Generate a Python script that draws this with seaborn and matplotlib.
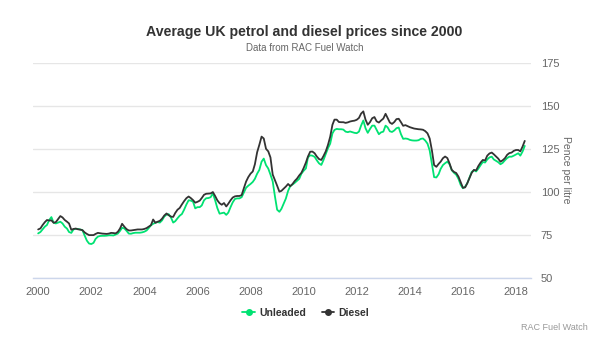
import matplotlib
matplotlib.use('Agg')
import matplotlib.pyplot as plt
import matplotlib.dates as mdates
from matplotlib.lines import Line2D
import seaborn as sns
import pandas as pd
import numpy as np

# monthly average pump prices (pence per litre), Jan 2000 - May 2018
unleaded = [
    75.7, 76.5, 78.0, 79.6, 80.6, 83.5, 85.2, 81.9, 81.5, 82.0, 82.5, 81.5,  # 2000
    79.6, 78.5, 76.5, 76.0, 78.0, 78.4, 78.3, 78.0, 77.6, 74.5, 71.5, 69.8,  # 2001
    69.5, 70.2, 72.5, 73.8, 74.2, 74.3, 74.3, 74.4, 74.6, 74.6, 74.5, 75.0,  # 2002
    75.6, 77.2, 79.0, 78.6, 77.2, 75.6, 75.5, 75.9, 76.1, 76.1, 76.1, 76.3,  # 2003
    76.7, 77.4, 78.8, 80.4, 81.3, 81.9, 82.3, 82.0, 83.3, 85.5, 86.6, 86.9,  # 2004
    85.0, 82.0, 82.8, 84.5, 86.0, 87.0, 89.5, 92.5, 95.0, 94.8, 94.2, 90.3,  # 2005
    91.0, 91.0, 92.0, 95.0, 96.2, 96.3, 96.8, 99.0, 95.0, 90.5, 87.2, 87.5,  # 2006
    87.8, 86.5, 87.8, 91.0, 93.8, 95.8, 96.1, 96.1, 96.8, 99.5, 102.3, 103.5,  # 2007
    104.5, 105.7, 107.5, 110.5, 112.7, 117.5, 119.3, 115.5, 113.5, 110.0, 106.0, 97.5,  # 2008
    89.5, 88.3, 90.0, 93.0, 96.0, 100.5, 103.3, 104.2, 105.2, 106.3, 107.5, 110.5,  # 2009
    112.2, 113.6, 120.0, 121.2, 121.0, 120.3, 118.3, 116.5, 115.6, 118.5, 122.0, 125.3,  # 2010
    128.0, 134.0, 136.0, 136.6, 136.4, 136.4, 136.2, 135.0, 134.7, 135.1, 134.7, 134.3,  # 2011
    134.1, 135.0, 138.5, 141.5, 137.0, 134.3, 136.5, 138.5, 138.5, 136.0, 133.5, 134.6,  # 2012
    135.0, 138.5, 137.5, 135.2, 134.8, 135.7, 137.0, 137.4, 133.5, 130.8, 131.0, 130.8,  # 2013
    130.2, 129.9, 129.8, 129.8, 130.0, 130.8, 131.0, 129.8, 128.0, 124.0, 116.0, 108.5,  # 2014
    108.3, 110.2, 113.3, 115.5, 116.6, 117.5, 116.0, 112.5, 111.0, 109.9, 107.5, 104.0,  # 2015
    102.0, 103.0, 104.9, 108.3, 111.5, 112.5, 111.8, 113.5, 115.5, 117.3, 117.0, 118.8,  # 2016
    120.0, 120.4, 118.8, 118.0, 117.2, 116.0, 116.8, 118.3, 119.6, 120.4, 120.4, 121.0,  # 2017
    121.7, 122.4, 121.0, 123.4, 126.7,  # 2018
]
diesel = [
    78.0, 78.6, 80.5, 82.2, 83.5, 83.2, 83.3, 81.9, 82.3, 84.0, 85.8, 85.0,  # 2000
    83.5, 82.5, 81.5, 77.8, 78.3, 78.5, 78.1, 77.9, 77.6, 76.3, 75.4, 74.7,  # 2001
    74.7, 74.7, 75.4, 76.0, 75.8, 75.6, 75.5, 75.4, 75.6, 76.0, 75.9, 75.7,  # 2002
    76.6, 78.6, 81.3, 79.6, 78.2, 77.4, 77.4, 77.6, 77.8, 78.0, 78.0, 78.0,  # 2003
    78.3, 78.8, 79.6, 80.5, 83.8, 81.9, 82.5, 83.0, 84.3, 86.1, 87.3, 86.3,  # 2004
    85.5, 85.3, 87.6, 89.5, 90.5, 92.6, 94.5, 96.2, 97.2, 96.3, 95.1, 93.6,  # 2005
    94.1, 94.8, 96.3, 98.2, 98.8, 98.9, 99.0, 99.8, 97.5, 95.0, 93.3, 92.4,  # 2006
    93.4, 91.4, 93.0, 95.0, 96.6, 97.3, 97.5, 97.5, 98.0, 102.0, 105.9, 108.5,  # 2007
    110.5, 111.8, 116.0, 123.0, 127.3, 132.1, 131.0, 125.0, 123.5, 120.0, 110.0, 106.8,  # 2008
    103.5, 100.0, 100.5, 101.8, 103.0, 104.5, 103.2, 104.5, 106.3, 107.6, 109.5, 111.0,  # 2009
    113.8, 117.0, 120.5, 123.3, 123.4, 122.4, 120.5, 119.0, 118.5, 120.8, 123.5, 127.2,  # 2010
    132.0, 139.0, 142.0, 142.0, 140.6, 140.5, 140.5, 140.1, 140.4, 140.9, 141.2, 141.4,  # 2011
    141.9, 143.0, 145.5, 146.8, 142.0, 139.0, 140.5, 142.8, 143.5, 141.0, 140.3, 141.5,  # 2012
    142.6, 145.4, 143.0, 140.3, 139.5, 140.6, 142.3, 142.5, 140.5, 138.4, 138.8, 138.2,  # 2013
    137.6, 137.2, 136.8, 136.6, 136.4, 136.3, 136.1, 135.3, 134.0, 131.0, 124.0, 115.5,  # 2014
    114.5, 116.2, 117.5, 119.5, 120.5, 119.6, 116.5, 112.7, 111.5, 110.9, 108.8, 105.6,  # 2015
    102.3, 102.5, 104.9, 108.0, 111.0, 112.7, 112.4, 115.0, 117.0, 118.5, 118.2, 121.0,  # 2016
    122.3, 122.8, 121.8, 120.5, 119.3, 117.5, 118.3, 119.5, 121.5, 122.5, 122.8, 123.8,  # 2017
    124.3, 124.3, 123.5, 126.3, 129.6,  # 2018
]
months = pd.date_range('2000-01-01', periods=len(unleaded), freq='MS')
series_names = ['Unleaded', 'Diesel']
series_colors = ['#00e272', '#333333']
year_ticks = list(range(2000, 2019, 2))
y_ticks = [50, 75, 100, 125, 150, 175]

df = pd.DataFrame({'month': months, 'Unleaded': unleaded, 'Diesel': diesel})
long_df = df.melt(id_vars='month', var_name='fuel', value_name='price')

sns.set_style('white')
plt.rcParams['font.family'] = ['Liberation Sans', 'DejaVu Sans']

fig = plt.figure(figsize=(6.15, 3.52), dpi=100)
ax = fig.add_axes([33 / 615, 1 - 277.5 / 352, (531 - 33) / 615, (277.5 - 63) / 352])

sns.lineplot(data=long_df, x='month', y='price', hue='fuel', hue_order=series_names,
             palette=series_colors, linewidth=1.3, legend=False, ax=ax)

ax.set_ylim(50, 175)
ax.set_yticks(y_ticks)
ax.set_xlim(pd.Timestamp('1999-10-22'), pd.Timestamp('2018-07-26'))
ax.set_xticks([pd.Timestamp(f'{y}-01-01') for y in year_ticks])
ax.xaxis.set_major_formatter(mdates.DateFormatter('%Y'))

ax.yaxis.tick_right()
ax.grid(axis='y', color='#e6e6e6', linewidth=1)
ax.set_axisbelow(True)
for side in ['top', 'left', 'right']:
    ax.spines[side].set_visible(False)
ax.spines['bottom'].set_color('#ccd6eb')
ax.spines['bottom'].set_linewidth(1)
ax.tick_params(axis='x', colors='#ccd6eb', length=6, width=1, labelcolor='#666666',
               labelsize=8, pad=1)
ax.tick_params(axis='y', length=0, labelcolor='#666666', labelsize=8, pad=7)
ax.set_xlabel('')
ax.set_ylabel('')

fig.text(566 / 615, 1 - 170 / 352, 'Pence per litre', rotation=270, ha='center', va='center',
         fontsize=7.5, color='#666666')

fig.text(0.495, 1 - 32 / 352, 'Average UK petrol and diesel prices since 2000',
         ha='center', va='center', fontsize=10.2, fontweight='bold', color='#333333')
fig.text(0.495, 1 - 48 / 352, 'Data from RAC Fuel Watch',
         ha='center', va='center', fontsize=7, color='#666666')

handles = [Line2D([0], [0], color=c, linewidth=1.3, marker='o', markersize=4)
           for c in series_colors]
fig.legend(handles, series_names, loc='center', bbox_to_anchor=(0.497, 1 - 313 / 352),
           ncol=2, frameon=False, handlelength=1.2, handletextpad=0.4, columnspacing=1.5,
           prop={'weight': 'bold', 'size': 7.5})
for t in fig.legends[0].get_texts():
    t.set_color('#333333')

fig.text(588 / 615, 1 - 328 / 352, 'RAC Fuel Watch', ha='right', va='center',
         fontsize=6.5, color='#999999')

fig.savefig('out.png', dpi=100)
